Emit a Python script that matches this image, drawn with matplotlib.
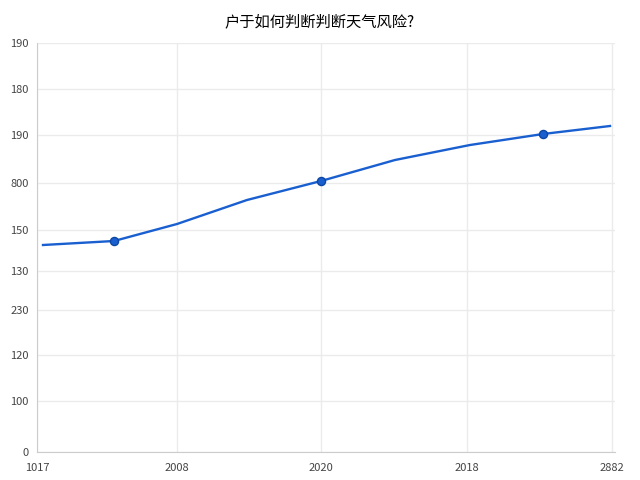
import matplotlib
matplotlib.use("Agg")
import matplotlib.pyplot as plt

plt.rcParams['font.family'] = ['Noto Sans CJK SC', 'DejaVu Sans']

title = "户于如何判断判断天气风险?"
x_tick_pos = [0, 140, 284, 430, 575]
x_tick_labels = ["1017", "2008", "2020", "2018", "2882"]
y_tick_pos = [0, 51, 97, 142, 181, 222, 269, 317, 363, 409]
y_tick_labels = ["0", "100", "120", "230", "130", "150", "800", "190", "180", "190"]

line_x = [6, 77, 140, 210, 284, 358, 433, 506, 573]
line_y = [207, 211, 228, 252, 271, 292, 307, 318, 326]
marker_x = [77, 284, 506]
marker_y = [211, 271, 318]

fig = plt.figure(figsize=(6.4, 4.8), dpi=100)
ax = fig.add_axes([37/640, 28/480, 578/640, 409/480])
ax.plot(line_x, line_y, color="#1a5fd0", lw=1.7)
ax.scatter(marker_x, marker_y, color="#1a5fd0", s=34, zorder=3, edgecolor="#0d47a1")
ax.set_xlim(0, 578)
ax.set_ylim(0, 409)
ax.set_xticks(x_tick_pos, x_tick_labels)
ax.set_yticks(y_tick_pos, y_tick_labels)
ax.grid(True, color="#ebebeb", lw=1)
for s in ["top", "right"]:
    ax.spines[s].set_visible(False)
for s in ["left", "bottom"]:
    ax.spines[s].set_color("#cccccc")
ax.tick_params(length=0, labelsize=8, colors="#444444", pad=6)
ax.tick_params(axis="x", pad=8)
fig.text(0.5, 0.945, title, ha="center", fontsize=11)
fig.savefig("out.png", dpi=100)
